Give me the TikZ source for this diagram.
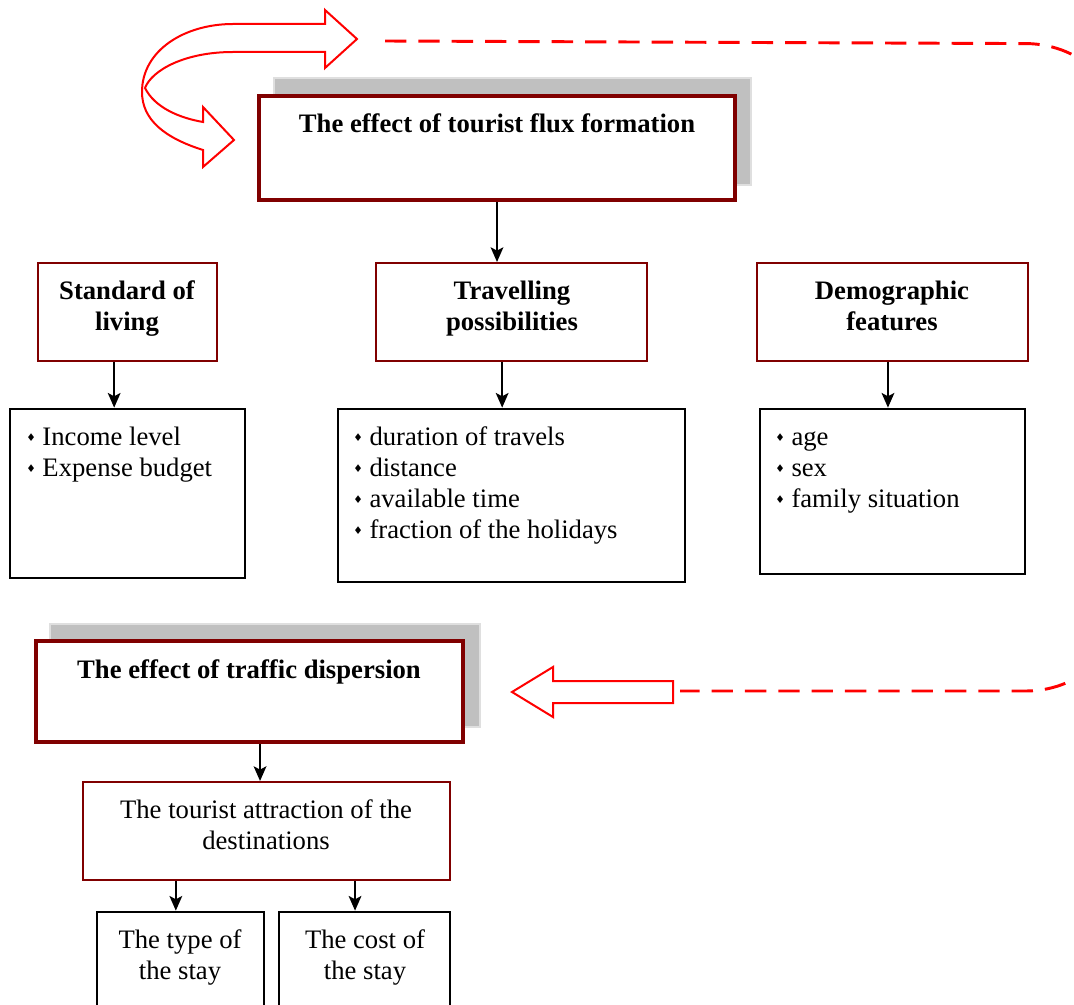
\documentclass[tikz,border=0pt]{standalone}
\usepackage{fontspec}
\setmainfont{Liberation Serif}
\newfontfamily\bulletfont{DejaVu Sans}
\usetikzlibrary{fit,arrows.meta}
\definecolor{darkred}{HTML}{800000}
\definecolor{shadowgray}{HTML}{C0C0C0}
\newcommand{\itm}{{\bulletfont\fontsize{8}{8}\selectfont\raisebox{2.5pt}{♦}}\hspace{5pt}}

\begin{document}
\begin{tikzpicture}[x=0.75pt,y=-0.75pt,
    shadowbox/.style={fill=shadowgray,draw=gray!25,line width=0.8pt,inner sep=0},
    mainbox/.style={draw=darkred,fill=white,line width=3pt,inner sep=0},
    headbox/.style={draw=darkred,line width=1.5pt,inner sep=0},
    listbox/.style={draw=black,line width=2pt,inner sep=0},
    txt/.style={inner sep=0,align=center,font=\fontsize{20}{23.25}\selectfont},
    bold/.style={txt,font=\fontsize{20}{23.25}\selectfont\bfseries},
    lst/.style={inner sep=0,align=left,font=\fontsize{20}{23.25}\selectfont},
    conn/.style={line width=1.7pt,-{Stealth[length=11pt,width=9.5pt,inset=2.5pt]}},
    bigarrow/.style={draw=red,fill=white,line width=1.5pt,line join=miter},
    dashline/.style={draw=red,line width=2.2pt,dash pattern=on 16pt off 9pt}]
  \useasboundingbox (0,0) rectangle (1074,1005);

  % first effect
  \node[shadowbox,fit={(274,78) (751,185)}] (fluxshadow) {};
  \node[mainbox,fit={(259,96) (735,200)}] (flux) {};
  \node[bold,anchor=base] (fluxtext) at (497,133) {The effect of tourist flux formation};

  % factors
  \node[headbox,fit={(38,263) (217,361)}] (living) {};
  \node[bold,anchor=base] (livingtext) at (127,331) {Standard of\\living};
  \node[headbox,fit={(376,263) (647,361)}] (travel) {};
  \node[bold,anchor=base] (traveltext) at (512,331) {Travelling\\possibilities};
  \node[headbox,fit={(757,263) (1028,361)}] (demo) {};
  \node[bold,anchor=base] (demotext) at (892,331) {Demographic\\features};

  % lists
  \node[listbox,fit={(10,409) (245,578)}] (livinglist) {};
  \node[lst,anchor=base west] (livingitems) at (26,476) {\itm Income level\\\itm Expense budget};
  \node[listbox,fit={(338,409) (685,582)}] (travellist) {};
  \node[lst,anchor=base west] (travelitems) at (353,538) {\itm duration of travels\\\itm distance\\\itm available time\\\itm fraction of the holidays};
  \node[listbox,fit={(760,409) (1025,574)}] (demolist) {};
  \node[lst,anchor=base west] (demoitems) at (775,507) {\itm age\\\itm sex\\\itm family situation};

  % second effect
  \node[shadowbox,fit={(50,624) (480,727)}] (dispshadow) {};
  \node[mainbox,fit={(36,641) (463,742)}] (disp) {};
  \node[bold,anchor=base] (disptext) at (249,678) {The effect of traffic dispersion};
  \node[headbox,fit={(83,782) (450,880)}] (attr) {};
  \node[txt,anchor=base] (attrtext) at (266,849) {The tourist attraction of the\\destinations};
  \node[listbox,fit={(97,912) (264,1030)}] (stay) {};
  \node[txt,anchor=base] (staytext) at (180,979) {The type of\\the stay};
  \node[listbox,fit={(279,912) (450,1030)}] (cost) {};
  \node[txt,anchor=base] (costtext) at (365,979) {The cost of\\the stay};

  % connectors
  \draw[conn] (flux.south) -- (flux.south |- travel.north);
  \draw[conn] ([xshift=-10pt]living.south) -- ([xshift=-10pt]living.south |- livinglist.north);
  \draw[conn] ([xshift=-7pt]travel.south) -- ([xshift=-7pt]travel.south |- travellist.north);
  \draw[conn] ([xshift=-3.4pt]demo.south) -- ([xshift=-3.4pt]demo.south |- demolist.north);
  \draw[conn] ([xshift=7.9pt]disp.south) -- ([xshift=7.9pt]disp.south |- attr.north);
  \draw[conn] ([xshift=-68pt]attr.south) -- ([xshift=-68pt]attr.south |- stay.north);
  \draw[conn] ([xshift=66.4pt]attr.south) -- ([xshift=66.4pt]attr.south |- cost.north);

  % red arrows
  \draw[bigarrow] (233,24) -- (325,24) -- (325,10) -- (357,39) -- (325,68) -- (325,52) -- (233,52)
    .. controls (185,52) and (152,70) .. (145,88)
    .. controls (155,108) and (180,118) .. (203,122)
    -- (203,107) -- (234,140) -- (203,167) -- (203,150)
    .. controls (165,138) and (142,120) .. (142,92)
    .. controls (142,50) and (185,24) .. (233,24) -- cycle;
  \draw[bigarrow] (512,692) -- (553,667) -- (553,681) -- (673,681) -- (673,703) -- (553,703) -- (553,717) -- cycle;
  \coordinate (dashstart) at (385,41);
  \coordinate (dashend) at (680,691);
  \draw[dashline,rounded corners=78pt] (dashstart) -- (1130,44) -- (1130,691) -- (dashend);
\end{tikzpicture}
\end{document}
